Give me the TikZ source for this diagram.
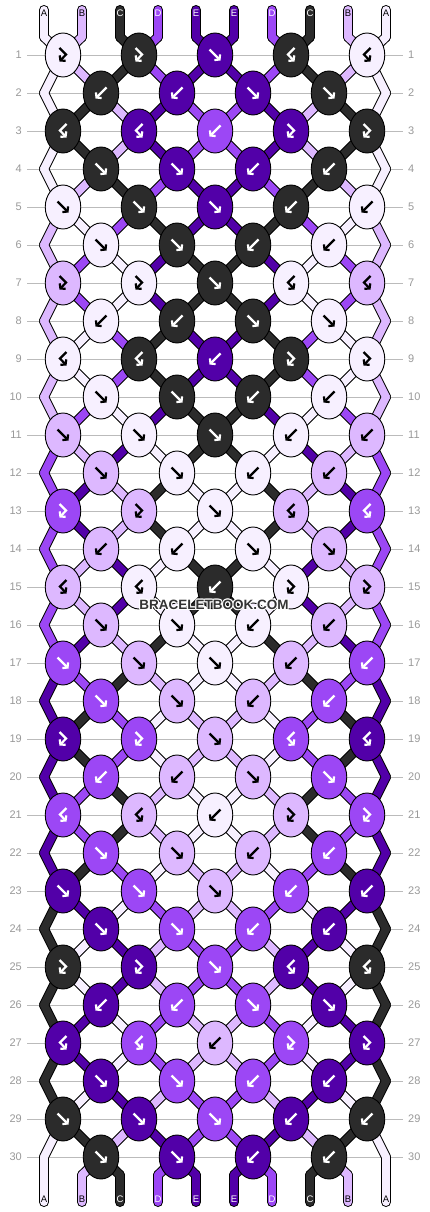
\documentclass[tikz,border=0pt]{standalone}
\usepackage{fontspec}
\setmainfont{Liberation Sans}
\usetikzlibrary{arrows.meta,shapes.geometric}

\definecolor{thA}{HTML}{F7F0FF}
\definecolor{thB}{HTML}{DDB8FF}
\definecolor{thC}{HTML}{2B2B2B}
\definecolor{thD}{HTML}{9C47F5}
\definecolor{thE}{HTML}{5200A8}
\definecolor{gridgrey}{HTML}{BBBBBB}
\definecolor{numgrey}{HTML}{999999}
% text colour on each thread colour
\def\arrA{black}\def\arrB{black}\def\arrC{white}\def\arrD{white}\def\arrE{white}

% knot types: knot colour and whether the threads change place
\def\ktF{\let\kc\La\def\sw{1}}
\def\ktB{\let\kc\Rb\def\sw{1}}
\def\ktFB{\let\kc\La\def\sw{0}}
\def\ktBF{\let\kc\Rb\def\sw{0}}

\newcommand\glyphF[3]{\draw[knotarrow,#3,shift={(#1,#2)}] (-5.5,-5.5) -- (5.5,5.5);}
\newcommand\glyphB[3]{\draw[knotarrow,#3,shift={(#1,#2)}] (5.5,-5.5) -- (-5.5,5.5);}
\newcommand\glyphFB[3]{\draw[knotarrow,#3,shift={(#1,#2)}] (-3.5,-7) -- (3,-0.5) -- (-3.5,6.5);}
\newcommand\glyphBF[3]{\draw[knotarrow,#3,shift={(#1,#2)}] (3.5,-7) -- (-3,-0.5) -- (3.5,6.5);}

\begin{document}
\begin{tikzpicture}[x=1pt, y=-1pt,
  knot/.style={shape=ellipse, draw=black, line width=0.9pt, minimum width=35.5pt, minimum height=44pt, inner sep=0pt},
  rim/.style={line width=10pt, line cap=round, line join=round, draw=black},
  strand/.style={line width=8pt, line cap=round, line join=round},
  gridline/.style={draw=gridgrey, line width=0.9pt},
  rownum/.style={text=numgrey, font=\fontsize{11}{11}\selectfont, inner sep=0pt},
  endlabel/.style={font=\fontsize{9.5}{9.5}\selectfont, inner sep=0pt},
  knotarrow/.style={line width=2.2pt, -{Straight Barb[length=3.2pt, width=8pt, line width=2.2pt]}}]
\useasboundingbox (0,0) rectangle (430,1212);

% threads at the top
\foreach \p/\c in {0/A,1/B,2/C,3/D,4/E,5/E,6/D,7/C,8/B,9/A}{
  \expandafter\xdef\csname st\p\endcsname{\c}
  \expandafter\xdef\csname sc0-\p\endcsname{\c}
  \pgfmathtruncatemacro\tx{44+38*\p}
  \coordinate (top\p) at (\tx,10);
  \coordinate (p0-\p) at (\tx,37);
}

% follow the threads row by row
\foreach \types [count=\r] in {
  {FB,FB,F,BF,BF},{B,B,F,F},{BF,BF,B,FB,FB},{F,F,B,B},{F,F,F,B,B},{F,F,B,B},
  {FB,FB,F,BF,BF},{B,B,F,F},{BF,BF,B,FB,FB},{F,F,B,B},{F,F,F,B,B},{F,F,B,B},
  {FB,FB,F,BF,BF},{B,B,F,F},{BF,BF,B,FB,FB},{F,F,B,B},{F,F,F,B,B},{F,F,B,B},
  {FB,FB,F,BF,BF},{B,B,F,F},{BF,BF,B,FB,FB},{F,F,B,B},{F,F,F,B,B},{F,F,B,B},
  {FB,FB,F,BF,BF},{B,B,F,F},{BF,BF,B,FB,FB},{F,F,B,B},{F,F,F,B,B},{F,F,B,B}}{
  \pgfmathtruncatemacro\ry{17+38*\r}
  \pgfmathtruncatemacro\odd{mod(\r,2)}
  \foreach \p in {0,...,9}{
    \ifnum\odd=1
      \pgfmathtruncatemacro\tx{63+38*(\p-mod(\p,2))}
    \else
      \ifnum\p=0 \def\tx{44}\else\ifnum\p=9 \def\tx{386}\else
        \pgfmathtruncatemacro\tx{63+38*(\p-1+mod(\p,2))}
      \fi\fi
    \fi
    \coordinate (p\r-\p) at (\tx,\ry);
    \expandafter\xdef\csname sc\r-\p\endcsname{\csname st\p\endcsname}
  }
  \foreach \kt [count=\kn from 0] in \types{
    \ifnum\odd=1 \pgfmathtruncatemacro\pa{2*\kn}\else\pgfmathtruncatemacro\pa{2*\kn+1}\fi
    \pgfmathtruncatemacro\pb{\pa+1}
    \edef\La{\csname st\pa\endcsname}
    \edef\Rb{\csname st\pb\endcsname}
    \csname kt\kt\endcsname
    \ifnum\sw=1\relax
      \expandafter\xdef\csname st\pa\endcsname{\Rb}
      \expandafter\xdef\csname st\pb\endcsname{\La}
    \fi
    \expandafter\xdef\csname kc\r-\kn\endcsname{\kc}
    \expandafter\xdef\csname ty\r-\kn\endcsname{\kt}
  }
}
\foreach \p in {0,...,9}{
  \pgfmathtruncatemacro\tx{44+38*\p}
  \coordinate (p31-\p) at (\tx,1175);
  \coordinate (bot\p) at (\tx,1202);
  \expandafter\xdef\csname sc31-\p\endcsname{\csname st\p\endcsname}
}

% grid lines and row numbers
\foreach \r in {1,...,30}{
  \pgfmathtruncatemacro\ry{17+38*\r}
  \draw[gridline] (27,\ry) -- (403,\ry);
  \node[rownum, anchor=east, fill=white, inner xsep=1pt] (nl\r) at (23,\ry) {\r};
  \node[rownum, anchor=west, fill=white, inner xsep=1pt] (nr\r) at (407,\ry) {\r};
}

% thread outlines, then thread colours
\foreach \p in {0,...,9}{
  \draw[rim] (top\p) -- (p0-\p);
  \draw[rim] (p31-\p) -- (bot\p);
  \foreach \r [count=\rp from 0] in {1,...,31}
    \draw[rim] (p\rp-\p) -- (p\r-\p);
}
\foreach \p in {0,...,9}{
  \edef\tc{\csname sc0-\p\endcsname}
  \draw[strand, draw=th\tc] (top\p) -- (p0-\p);
  \edef\tc{\csname sc31-\p\endcsname}
  \draw[strand, draw=th\tc] (p31-\p) -- (bot\p);
  \foreach \r [count=\rp from 0] in {1,...,31}{
    \edef\tc{\csname sc\r-\p\endcsname}
    \draw[strand, draw=th\tc] (p\rp-\p) -- (p\r-\p);
  }
}

% knots
\foreach \r in {1,...,30}{
  \pgfmathtruncatemacro\ry{17+38*\r}
  \pgfmathtruncatemacro\odd{mod(\r,2)}
  \pgfmathtruncatemacro\nk{3+\odd}
  \foreach \kn in {0,...,\nk}{
    \pgfmathtruncatemacro\kx{63+38*(2*\kn+1-\odd)}
    \edef\kc{\csname kc\r-\kn\endcsname}
    \edef\kt{\csname ty\r-\kn\endcsname}
    \edef\ac{\csname arr\kc\endcsname}
    \node[knot, fill=th\kc] (k\r-\kn) at (\kx,\ry) {};
    \csname glyph\kt\endcsname{\kx}{\ry}{\ac}
  }
}

% thread names
\foreach \p in {0,...,9}{
  \pgfmathtruncatemacro\tx{44+38*\p}
  \edef\tc{\csname sc0-\p\endcsname}
  \node[endlabel, text=\csname arr\tc\endcsname] (lt\p) at (\tx,13) {\tc};
  \edef\tc{\csname sc31-\p\endcsname}
  \node[endlabel, text=\csname arr\tc\endcsname] (lb\p) at (\tx,1199) {\tc};
}

% watermark
\foreach \dx/\dy in {-0.9/0,0.9/0,0/-0.9,0/0.9,-0.7/-0.7,0.7/0.7,-0.7/0.7,0.7/-0.7}
  \node[text=white, font=\fontsize{13.5}{13.5}\selectfont\bfseries] at (214+\dx,605+\dy) {BRACELETBOOK.COM};
\node[text=black!80, font=\fontsize{13.5}{13.5}\selectfont\bfseries] (mark) at (214,605) {BRACELETBOOK.COM};
\end{tikzpicture}
\end{document}
